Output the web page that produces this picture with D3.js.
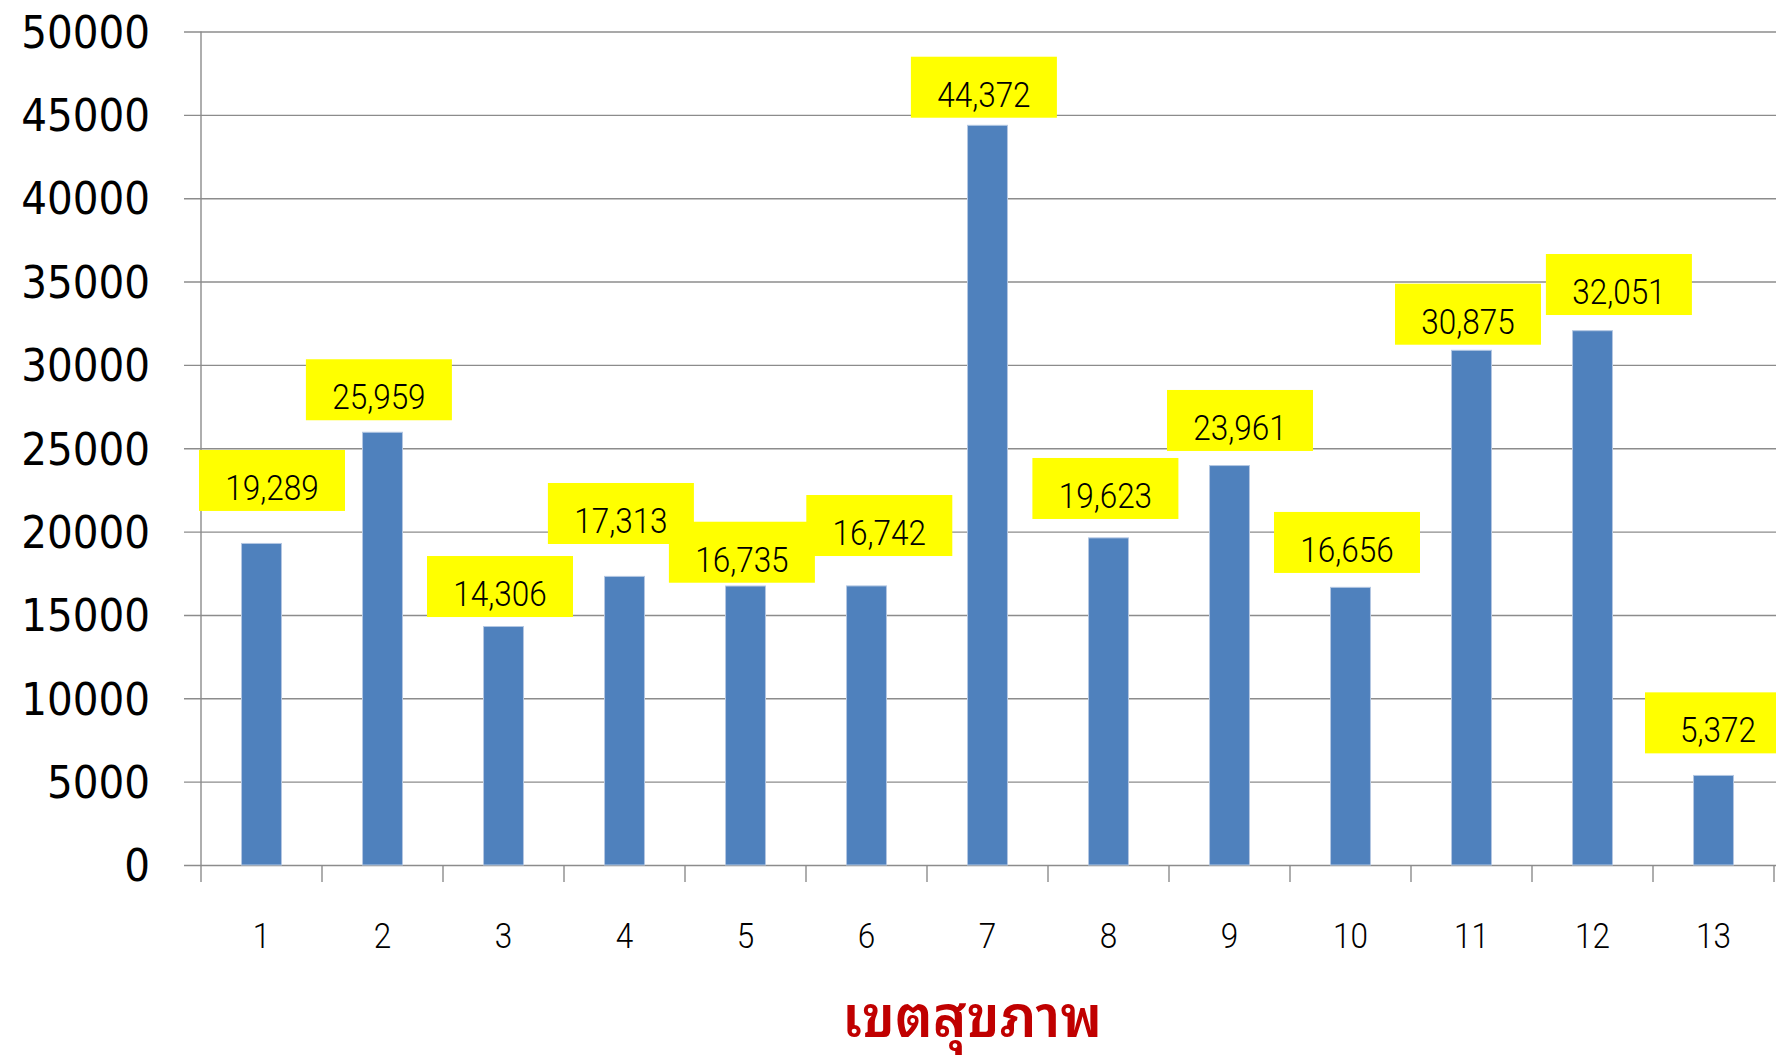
<!DOCTYPE html>
<html>
<head>
<meta charset="utf-8">
<script src="https://cdn.jsdelivr.net/npm/d3@7"></script>
<style>
  html, body { margin: 0; padding: 0; background: #fff; }
  svg { display: block; }
</style>
</head>
<body>
<svg id="chart" width="1776" height="1059"></svg>
<script>
// data
const regions = ['1', '2', '3', '4', '5', '6', '7', '8', '9', '10', '11', '12', '13']
const counts = [19289, 25959, 14306, 17313, 16735, 16742, 44372, 19623, 23961, 16656, 30875, 32051, 5372]
const yTicks = [0, 5000, 10000, 15000, 20000, 25000, 30000, 35000, 40000, 45000, 50000]
const axisTitle = 'เขตสุขภาพ'

// hand-placed label boxes (px, relative to bar top centre)
const labelDx = [10.5, -3.6, -3.5, -3.6, -3.6, 12.8, -3.6, -3.1, 10.5, -3.5, -3.5, 26.4, 4.5]
const labelDy = [-93.5, -73, -70.5, -93.4, -64.3, -90.9, -68.6, -79.9, -75.6, -75.4, -66.6, -76.7, -83.1]

const margin = { top: 31.5, left: 201, right: 2, bottom: 194 }
const W = 1776, H = 1059
const innerW = W - margin.left - margin.right
const innerH = H - margin.top - margin.bottom

const svg = d3.select('#chart')
const g = svg.append('g').attr('transform', `translate(${margin.left},${margin.top})`)

const x = d3.scaleBand().domain(regions).range([0, innerW]).padding(0)
const y = d3.scaleLinear().domain([0, 50000]).range([innerH, 0])

const grid = '#8c8c8c'
const labelFont = 'Roboto, "Liberation Sans", Arial, sans-serif'

// y axis + gridlines
const yAxis = g.append('g')
  .call(d3.axisLeft(y).tickValues(yTicks).tickFormat(d3.format('d')).tickSizeOuter(0).tickSizeInner(0))
yAxis.select('.domain').remove()
yAxis.selectAll('.tick line')
  .attr('x1', -17).attr('x2', innerW + margin.right)
  .attr('stroke', grid).attr('stroke-width', 1.4)
yAxis.selectAll('.tick text')
  .attr('x', -51).attr('dy', '0.35em')
  .style('font-family', '"DejaVu Sans Condensed", "DejaVu Sans", sans-serif')
  .style('font-stretch', 'condensed')
  .style('font-size', '45px')
  .attr('fill', '#000')

g.append('line')
  .attr('x1', 0).attr('x2', 0).attr('y1', 0).attr('y2', innerH + 17)
  .attr('stroke', grid).attr('stroke-width', 1.4)

// x axis: ticks sit on band edges
const edges = regions.map((r) => x(r)).concat([innerW])
g.append('g').selectAll('line.edge')
  .data(edges.slice(1))
  .join('line')
  .attr('class', 'edge')
  .attr('x1', (d) => d).attr('x2', (d) => d)
  .attr('y1', innerH).attr('y2', innerH + 17)
  .attr('stroke', grid).attr('stroke-width', 1.4)

const xAxis = g.append('g')
  .attr('transform', `translate(0,${innerH})`)
  .call(d3.axisBottom(x).tickSize(0))
xAxis.select('.domain').remove()
xAxis.selectAll('.tick text')
  .attr('y', 83).attr('dy', 0)
  .attr('transform', 'scale(0.9,1)')
  .attr('x', 0)
  .style('font-family', labelFont)
  .style('font-weight', 300)
  .style('font-size', '35px')
  .attr('fill', '#000')

// bars
const barW = x.bandwidth() * 0.33
g.append('g').selectAll('rect.bar')
  .data(counts)
  .join('rect')
  .attr('class', 'bar')
  .attr('x', (d, i) => x(regions[i]) + (x.bandwidth() - barW) / 2)
  .attr('y', (d) => y(d))
  .attr('width', barW)
  .attr('height', (d) => innerH - y(d))
  .attr('fill', '#4f81bd')
  .attr('stroke', '#b3c7e2')
  .attr('stroke-width', 1)

// yellow value labels
const boxW = 146, boxH = 61
const labels = g.append('g').selectAll('g.lab')
  .data(counts)
  .join('g')
  .attr('class', 'lab')
  .attr('transform', (d, i) => {
    const cx = x(regions[i]) + x.bandwidth() / 2 + labelDx[i]
    const top = y(d) + labelDy[i]
    return `translate(${cx},${top})`
  })
labels.append('rect')
  .attr('x', -boxW / 2).attr('y', 0)
  .attr('width', boxW).attr('height', boxH)
  .attr('fill', '#ffff00')
labels.append('text')
  .attr('transform', 'translate(0,50) scale(0.9,1)')
  .attr('text-anchor', 'middle')
  .style('font-family', labelFont)
  .style('font-weight', 300)
  .style('font-size', '35px')
  .attr('fill', '#000')
  .text((d) => d3.format(',')(d))

// axis title
svg.append('text')
  .attr('x', 972).attr('y', 1037)
  .attr('text-anchor', 'middle')
  .style('font-family', '"Noto Sans Thai Looped", "Noto Sans Thai", "Noto Sans", sans-serif')
  .style('font-weight', 600)
  .style('font-size', '57px')
  .attr('fill', '#c00000')
  .text(axisTitle)
</script>
</body>
</html>
